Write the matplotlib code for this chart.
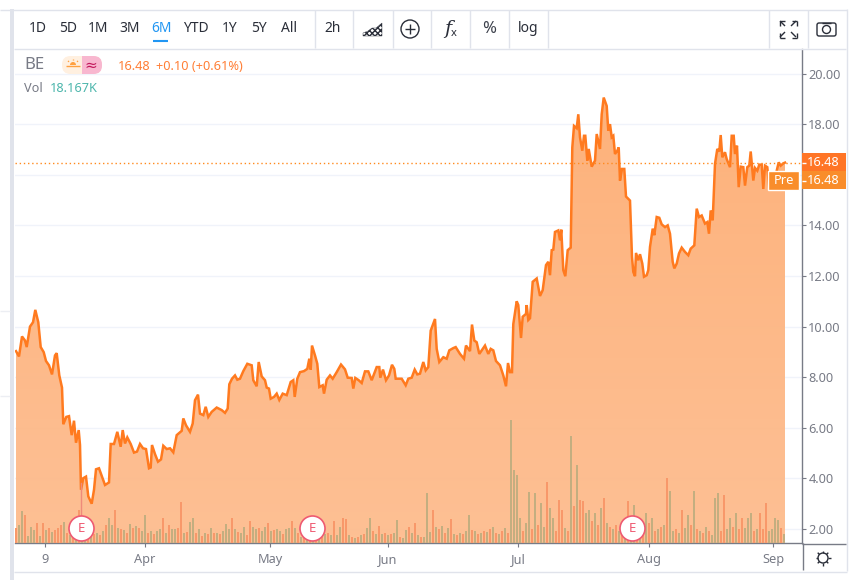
import numpy as np
import matplotlib
matplotlib.use("Agg")
import matplotlib.pyplot as plt
from matplotlib.patches import Rectangle, Circle, FancyBboxPatch, Polygon

plt.rcParams['font.family'] = ['Noto Sans', 'DejaVu Sans']

# Precio: posicion en el eje temporal y cierre
precio_x = [0, 3, 6, 9, 10.7, 14, 17, 19.3, 22.3, 24.7, 27.7, 30, 33, 36, 39, 40.7, 43.3, 46, 47.3, 50.3, 53, 55.7, 58, 60, 62.7, 64, 65, 67.3, 70, 72.3, 75.7, 78, 80, 83, 86, 89, 93, 94.7, 98, 101.3, 104.7, 106.7, 109, 111.3, 114.7, 118, 121, 124, 127, 130, 133, 134.7, 136, 139, 142, 145, 147.3, 150.7, 154, 157.3, 160.7, 165.7, 167.3, 170, 174, 176.7, 179, 182, 184, 187.3, 189.7, 192.3, 195.7, 200.7, 205.7, 209, 211.7, 213.3, 216, 219, 221.3, 224, 227.3, 231.3, 235.7, 237.3, 240.7, 242.7, 245.7, 249, 250.7, 253, 254.7, 258, 260.7, 263.3,
            266.7, 270.7, 274.7, 277.3, 278.7, 281.3, 284, 288, 291.3, 293.3, 294.7, 296, 299, 301.3, 303.3, 306.7, 308, 310.7, 314, 316.7, 320.7, 325, 329, 331.7, 335.7, 337.3, 339.3, 342.7, 345.7, 349, 352.3, 355.7, 360.7, 363.3, 364.3, 367, 370, 373, 376, 378.3, 379.7, 385.7, 389.7, 392.3, 395.7, 398.7, 401.3, 404, 407.3, 409.7, 412.3, 414.7, 419, 420.7, 423.3, 427.3, 430.7, 433.3, 437.3, 439.7, 444, 448, 450, 454, 456, 458.3, 460.7, 463.3, 469, 472.3, 474.7, 477.3, 480, 484, 487.3, 490, 492, 494, 496, 497.3, 500.7,
            502.3, 505, 506.7, 510, 510.7, 512.3, 514, 516.7, 520.7, 524, 526.7, 530, 532.3, 534, 535.7, 537.3, 539, 542.3, 544, 545.3, 547.3, 549.3, 551.7, 554.7, 556.3, 558, 560.7, 562.3, 564, 566.3, 568, 569.3, 571.3, 572.7, 575.7, 579, 580.7, 584, 585.7, 587.7, 590.7, 592.3, 594, 595.7, 597.3, 599, 601.3, 602.7, 604, 606, 608.3, 610, 614, 616, 617.3, 619, 620, 622.3, 624, 626.3, 628, 630.7, 632.3, 634, 636.7, 638.3, 640.7, 643.3, 645.7, 649, 651.7, 654, 656.7, 658.3, 660.7, 663, 665.7, 669, 672.3, 674.7, 678.3, 680.7, 683, 685.7, 689, 691.3, 693, 694.7, 696.7, 699, 701.3, 703.3, 704.7, 706.3, 709, 710.7, 714, 715.7, 717.7, 719, 721, 722.7, 724.7, 727.3, 729, 731.3, 733.3, 734.7, 737.3, 739, 741.3, 743.3, 745.7, 747.3, 749, 751.3, 753.3, 759, 760.7, 762.7, 764.7, 767.3, 769]
precio_y = [9.03, 8.82, 9.61, 9.45, 9.19, 10.0, 10.17, 10.66, 10.17, 9.19, 8.99, 8.64, 8.47, 8.11, 8.86, 8.95, 8.07, 7.59, 6.14, 6.43, 6.46, 5.71, 6.28, 5.41, 5.91, 5.32, 3.55, 4.01, 4.07, 3.29, 3.0, 3.55, 4.36, 4.40, 4.07, 3.74, 3.84, 5.36, 5.36, 5.84, 5.25, 5.91, 5.38, 5.62, 5.36, 5.02, 5.06, 5.36, 5.19, 5.16, 4.40, 4.43, 5.32, 4.96, 4.66, 4.75, 5.29, 5.16, 5.19, 5.03, 5.71, 5.88, 6.37, 6.10, 5.84, 6.17, 7.09, 7.31, 6.56, 6.50, 6.83, 6.43, 6.63, 6.80, 6.70, 6.59, 6.76, 7.72, 7.94, 8.07, 7.90, 7.94, 8.24, 8.53, 8.47, 7.88, 7.64, 8.60, 8.03, 7.88, 7.59, 7.55, 7.15, 7.22, 7.35, 7.10,
            7.35, 7.29, 7.81, 7.88, 7.22, 7.94, 8.20, 8.24, 8.33, 8.73, 8.30, 9.25, 8.86, 8.53, 7.61, 7.68, 7.35, 7.90, 8.07, 7.94, 8.20, 8.50, 8.31, 7.98, 7.97, 7.55, 7.97, 7.88, 7.77, 8.23, 8.23, 7.88, 8.40, 8.40, 7.98, 8.30, 7.88, 8.07, 8.49, 8.33, 7.94, 7.94, 7.68, 7.94, 7.98, 8.30, 8.11, 8.14, 8.60, 8.27, 8.40, 9.84, 10.30, 9.12, 8.60, 8.79, 8.73, 9.06, 9.15, 9.19, 8.92, 8.73, 9.25, 9.03, 10.08, 9.45, 9.38, 8.92, 9.25, 8.92, 9.12, 9.06, 8.64, 8.47, 8.07, 7.64, 8.56, 8.20, 8.20, 10.10, 11.0,
            10.85, 9.55, 10.39, 10.50, 10.85, 10.26, 10.33, 11.77, 11.90, 11.21, 11.44, 12.43, 12.56, 12.03, 13.02, 13.04, 13.74, 13.80, 13.41, 13.83, 12.23, 11.99, 13.02, 13.12, 17.08, 17.93, 17.84, 18.39, 17.48, 16.95, 17.54, 17.54, 16.56, 17.02, 16.32, 16.56, 17.61, 17.02, 18.39, 19.05, 18.72, 17.74, 18.0, 17.48, 17.54, 16.82, 16.95, 17.08, 15.77, 16.23, 16.23, 15.14, 14.98, 12.75, 12.16, 11.99, 12.91, 12.62, 12.86, 12.49, 11.97, 12.03, 12.23, 13.15, 13.87, 13.61, 14.33, 14.30, 14.04, 13.93, 14.0, 13.67, 12.56, 12.30, 12.49, 12.89, 13.12, 12.95, 12.82, 13.08, 13.21, 14.66, 14.33, 14.39, 14.07, 14.13, 13.67, 14.59, 14.20, 16.43, 17.02, 16.92, 17.57, 16.69, 16.89, 16.62, 16.30, 17.54, 17.54, 16.82, 17.15, 15.51, 16.32, 16.30, 15.57, 16.30, 16.36, 16.92, 15.77, 16.27, 16.16, 16.40, 16.40, 15.44, 16.36, 16.30, 15.44, 15.44, 16.16, 16.49, 16.36, 16.45, 16.48]

# Volumen por barra y si la barra es de subida (1) o bajada (0)
volumen = [15, 18, 32, 28, 7, 16, 13, 20, 7, 20, 13, 15, 11, 13, 15, 18,
           21, 10, 8, 10, 7, 33, 10, 9, 7, 12, 9, 10, 8, 12, 18, 25,
           18, 33, 15, 14, 13, 10, 19, 15, 17, 15, 12, 28, 10, 12, 9, 12,
           14, 25, 10, 18, 14, 14, 15, 41, 10, 11, 21, 25, 10, 14, 7, 10,
           9, 15, 10, 10, 9, 12, 19, 14, 25, 14, 11, 10, 16, 8, 22, 16,
           14, 15, 12, 16, 20, 12, 13, 14, 12, 9, 14, 15, 22, 15, 10, 6,
           10, 8, 8, 9, 10, 9, 8, 9, 10, 8, 22, 8, 16, 25, 24, 8,
           6, 5, 6, 8, 9, 15, 25, 12, 9, 17, 9, 10, 8, 9, 10, 23,
           6, 5, 13, 16, 10, 20, 8, 6, 6, 50, 11, 33, 16, 14, 17, 10,
           15, 24, 9, 8, 10, 9, 12, 28, 13, 12, 9, 10, 12, 11, 14, 16,
           10, 9, 12, 15, 10, 123, 73, 68, 25, 12, 20, 51, 14, 50, 18, 40,
           16, 61, 35, 25, 12, 43, 33, 15, 12, 107, 37, 78, 43, 42, 30, 33,
           22, 30, 18, 35, 45, 20, 16, 14, 18, 12, 15, 10, 42, 16, 38, 18,
           14, 12, 30, 20, 25, 12, 14, 16, 18, 65, 52, 12, 14, 10, 33, 15,
           28, 18, 52, 14, 12, 10, 16, 12, 8, 45, 50, 12, 48, 14, 25, 16,
           30, 14, 25, 15, 25, 30, 12, 14, 30, 14, 40, 12, 14, 25, 23, 15, 9]
vol_sube = [0, 1, 1, 0, 1, 1, 1, 0, 1, 0, 1, 0, 1, 0, 0, 0,
            1, 0, 1, 0, 1, 0, 1, 1, 0, 1, 0, 1, 0, 1, 0, 1,
            1, 0, 1, 0, 1, 0, 1, 0, 1, 0, 1, 1, 0, 1, 0, 1,
            1, 0, 1, 0, 1, 1, 0, 0, 1, 0, 1, 1, 0, 1, 0, 1,
            0, 1, 0, 1, 0, 1, 1, 1, 0, 1, 0, 1, 1, 0, 0, 1,
            1, 0, 1, 1, 0, 1, 0, 1, 1, 0, 1, 1, 0, 1, 0, 1,
            0, 1, 0, 1, 0, 1, 0, 1, 0, 1, 0, 1, 1, 0, 0, 1,
            0, 1, 0, 1, 0, 1, 1, 0, 1, 0, 1, 0, 1, 0, 1, 1,
            0, 1, 1, 0, 1, 0, 1, 0, 1, 1, 1, 0, 1, 0, 1, 0,
            1, 0, 1, 0, 1, 0, 1, 1, 0, 1, 0, 1, 0, 1, 0, 1,
            0, 1, 0, 1, 0, 1, 1, 1, 1, 0, 1, 1, 0, 1, 0, 1,
            1, 0, 1, 1, 0, 0, 0, 1, 0, 1, 0, 1, 0, 0, 1, 1,
            0, 1, 0, 1, 0, 1, 0, 1, 0, 1, 0, 1, 0, 1, 1, 0,
            1, 0, 1, 0, 1, 0, 1, 0, 1, 0, 1, 1, 0, 1, 0, 1,
            1, 0, 1, 0, 1, 0, 1, 0, 1, 1, 1, 0, 0, 1, 1, 0,
            1, 0, 0, 1, 1, 1, 0, 1, 0, 0, 0, 1, 1, 1, 1, 0, 1]

# Ejes
x_ticks = [29, 129, 254, 372, 502, 633, 757]
x_labels = ['9', 'Apr', 'May', 'Jun', 'Jul', 'Aug', 'Sep']
y_ticks = [2, 4, 6, 8, 10, 12, 14, 16, 18, 20]
earnings_x = [65, 296, 616]
ultimo = 16.48

botones = ['1D', '5D', '1M', '3M', '6M', 'YTD', '1Y', '5Y', 'All', '2h']
botones_x = [38, 68, 98, 130, 161, 196, 230, 259, 289, 333]
separadores_x = [314, 352, 392, 430, 469, 508, 547, 768, 807]

GRIS = '#787b86'
TEXTO = '#2a2e39'
BORDE = '#e0e3eb'
NARANJA = '#ff7a1f'

fig = plt.figure(figsize=(8.55, 5.8), dpi=100, facecolor='white')

# Grafico principal
rect = [15 / 855, 37 / 580, 787 / 855, 494 / 580]
ax = fig.add_axes(rect)
ax.set_xlim(-1, 786)
ax.set_ylim(1.447, 20.97)
ax.yaxis.tick_right()
ax.set_yticks(y_ticks)
# la etiqueta 16.00 queda tapada por las cajas de precio
ax.set_yticklabels(['' if v == 16 else '%.2f' % v for v in y_ticks])
ax.set_xticks(x_ticks)
ax.set_xticklabels(x_labels)
ax.tick_params(axis='both', length=3, width=0.8, color=GRIS, labelcolor=GRIS, labelsize=9.2, pad=1.5)
ax.tick_params(axis='x', pad=4)
ax.grid(axis='y', color='#f0f3fa', linewidth=1)
ax.set_axisbelow(True)
for lado in ['top', 'left']:
    ax.spines[lado].set_visible(False)
for lado in ['right', 'bottom']:
    ax.spines[lado].set_color(GRIS)
    ax.spines[lado].set_linewidth(1)

# Area con degradado recortado bajo la linea
relleno = ax.fill_between(precio_x, precio_y, 1.447, facecolor='none', edgecolor='none')
degradado = np.zeros((64, 1, 4))
arriba = np.array([253, 174, 116]) / 255
abajo = np.array([253, 190, 145]) / 255
for fila in range(64):
    degradado[fila, 0, :3] = arriba + (abajo - arriba) * fila / 63
degradado[:, :, 3] = 0.97
im = ax.imshow(degradado, extent=[-1, 786, 1.447, 20.97], aspect='auto', zorder=1.5)
im.set_clip_path(relleno.get_paths()[0], transform=ax.transData)
ax.set_xlim(-1, 786)
ax.set_ylim(1.447, 20.97)

ax.plot(precio_x, precio_y, color=NARANJA, linewidth=1.8, zorder=3, solid_joinstyle='miter')
ax.axhline(ultimo, color='#ff8a1e', linewidth=1, linestyle=(0, (1, 2)), zorder=4)

# Volumen y marcas de resultados
ax_vol = fig.add_axes(rect, frameon=False)
ax_vol.set_xlim(-1, 786)
ax_vol.set_ylim(0, 494)
ax_vol.axis('off')
vol_x = np.arange(len(volumen)) * 3
colores = ['#c3ae80' if s else '#f8986a' for s in vol_sube]
ax_vol.bar(vol_x, volumen, width=1.3, color=colores, linewidth=0)
ax_vol.plot([earnings_x[0], earnings_x[0]], [15, 60], color='#ef8a7a', linewidth=1)
ax_vol.plot(earnings_x, [15] * 3, linestyle='none', marker='o', markersize=18,
            markerfacecolor='white', markeredgecolor='#ee5a72', markeredgewidth=1.2)
for ex in earnings_x:
    ax_vol.text(ex, 15, 'E', color='#ee5a72', fontsize=9.5, ha='center', va='center')

# Capa de interfaz en pixeles
ui = fig.add_axes([0, 0, 1, 1], frameon=False)
ui.set_xlim(0, 855)
ui.set_ylim(580, 0)
ui.axis('off')

def linea(x0, y0, x1, y1, color=BORDE, lw=1.0):
    ui.plot([x0, x1], [y0, y1], color=color, linewidth=lw, solid_capstyle='butt')

ui.add_patch(Rectangle((10, 9), 4, 571, facecolor=BORDE, edgecolor='none'))
linea(0, 9.5, 847, 9.5)
linea(14, 48.5, 846, 48.5)
linea(846.5, 9, 846.5, 571)
linea(14, 571.5, 847, 571.5)
linea(0, 310.5, 10, 310.5, '#eceef3')
linea(0, 395.5, 10, 395.5, '#eceef3')
for sx in separadores_x:
    linea(sx + 0.5, 10, sx + 0.5, 48)
linea(802.5, 543, 802.5, 570, GRIS)
linea(802, 543.5, 846, 543.5, GRIS)

# Barra de herramientas
for nombre, bx in zip(botones, botones_x):
    color = '#2196f3' if nombre == '6M' else TEXTO
    ui.text(bx, 29, nombre, color=color, fontsize=10, ha='center', va='center')
linea(153, 40.5, 168, 40.5, '#2196f3', 1.5)

# Icono de area
ui.add_patch(Polygon([(363, 36), (363, 33), (368, 31), (372, 28), (376, 28), (382, 23), (382, 36)],
                     facecolor='white', edgecolor=TEXTO, hatch='xxxxxx', linewidth=0.3))
ui.add_patch(Circle((410, 29), 9, facecolor='none', edgecolor=TEXTO, linewidth=1))
linea(405, 29, 415, 29, TEXTO)
linea(410, 24, 410, 34, TEXTO)
ui.text(448, 29, 'f', color=TEXTO, fontsize=14, style='italic', ha='center', va='center', family='DejaVu Serif')
ui.text(453.5, 34, 'x', color=TEXTO, fontsize=8, ha='center', va='center')
ui.text(489, 29, '%', color='#3c404b', fontsize=12, ha='center', va='center')
ui.text(528, 29, 'log', color=TEXTO, fontsize=10, ha='center', va='center')

# Pantalla completa y camara
for sx, sy in [(-1, -1), (1, -1), (-1, 1), (1, 1)]:
    cx, cy = 788 + sx * 6, 29 + sy * 6
    linea(cx + sx * 2, cy + sy * 2, cx - sx * 3, cy - sy * 3, TEXTO)
    linea(cx + sx * 2.5, cy + sy * 2.5, cx - sx * 2.5, cy + sy * 2.5, TEXTO)
    linea(cx + sx * 2.5, cy + sy * 2.5, cx + sx * 2.5, cy - sy * 2.5, TEXTO)
ui.add_patch(FancyBboxPatch((817, 23), 19, 13, boxstyle='round,pad=0,rounding_size=2',
                            facecolor='white', edgecolor=TEXTO, linewidth=1))
linea(822, 22.5, 831, 22.5, TEXTO)
ui.add_patch(Circle((826.5, 29.5), 4, facecolor='white', edgecolor=TEXTO, linewidth=1))

# Leyenda
ui.text(24, 65, 'BE', color=GRIS, fontsize=12, ha='left', va='center')
ui.add_patch(FancyBboxPatch((62, 56), 40, 18, boxstyle='round,pad=0,rounding_size=8.5',
                            facecolor='#fff0e0', edgecolor='none'))
parte = FancyBboxPatch((62, 56), 40, 18, boxstyle='round,pad=0,rounding_size=8.5',
                       facecolor='#f8b7cf', edgecolor='none')
ui.add_patch(parte)
parte.set_clip_path(Rectangle((82, 50), 25, 30, transform=ui.transData))
ui.add_patch(Circle((73, 65), 3, facecolor='#ffa040', edgecolor='none'))
ui.add_patch(Rectangle((66, 65), 14, 3, facecolor='#fff0e0', edgecolor='none'))
linea(66, 65.5, 80, 65.5, '#ffa040', 1)
for dx, dy in [(-5, -4), (0, -6), (5, -4)]:
    linea(73 + dx, 65 + dy, 73 + dx * 0.8, 65 + dy * 0.8, '#ffa040', 1)
ui.text(91, 65, '≈', color='#c2185b', fontsize=11, ha='center', va='center', family='DejaVu Sans')
ui.text(118, 66, '16.48', color='#ff7f36', fontsize=9.2, ha='left', va='center')
ui.text(156, 66, '+0.10 (+0.61%)', color='#ff7f36', fontsize=9.2, ha='left', va='center')
ui.text(24, 89, 'Vol', color=GRIS, fontsize=9.2, ha='left', va='center')
ui.text(50, 89, '18.167K', color='#4db6ac', fontsize=9.2, ha='left', va='center')

# Etiquetas de ultimo precio
ui.add_patch(Rectangle((802, 153), 44, 18, facecolor='#ff7526', edgecolor='none'))
ui.add_patch(Rectangle((802, 171), 44, 18, facecolor='#f98d2b', edgecolor='none'))
ui.add_patch(Rectangle((767.5, 170.5), 31, 19, facecolor='#f98d2b', edgecolor='white', linewidth=1))
linea(802, 162.5, 806, 162.5, 'white')
linea(802, 180.5, 806, 180.5, 'white')
ui.text(823, 162, '16.48', color='white', fontsize=9.2, ha='center', va='center')
ui.text(823, 180, '16.48', color='white', fontsize=9.2, ha='center', va='center')
ui.text(784, 180, 'Pre', color='white', fontsize=9.2, ha='center', va='center')

# Ajustes
ui.add_patch(Circle((823, 558), 5, facecolor='none', edgecolor=TEXTO, linewidth=1))
for ang in np.deg2rad([0, 45, 90, 135, 180, 225, 270, 315]):
    linea(823 + 5 * np.cos(ang), 558 + 5 * np.sin(ang), 823 + 7.5 * np.cos(ang), 558 + 7.5 * np.sin(ang), TEXTO)

fig.savefig('out.png', dpi=100)
